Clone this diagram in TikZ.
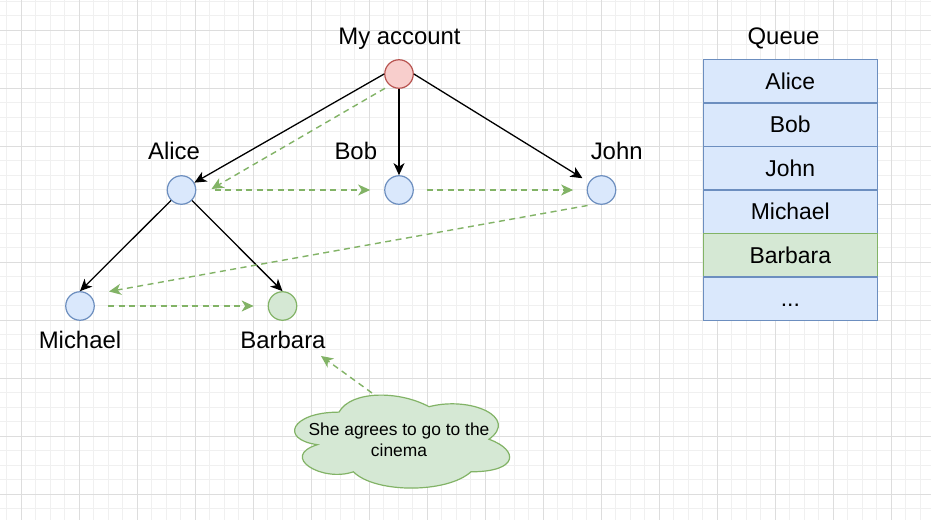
\documentclass[tikz,border=0pt]{standalone}
\usepackage{fontspec}
\setmainfont{Liberation Sans}
\usetikzlibrary{arrows.meta,calc}
\definecolor{bfill}{HTML}{DAE8FC}
\definecolor{bline}{HTML}{6C8EBF}
\definecolor{rfill}{HTML}{F8CECC}
\definecolor{rline}{HTML}{B85450}
\definecolor{gfill}{HTML}{D5E8D4}
\definecolor{gline}{HTML}{82B366}
\definecolor{gridminor}{HTML}{F0F0F0}
\definecolor{gridmajor}{HTML}{DDDDDD}
\begin{document}
\begin{tikzpicture}[x=1bp,y=-1bp,
  vertex/.style={circle, draw, line width=1.2bp, minimum size=28.5bp, inner sep=0pt},
  bluev/.style={vertex, draw=bline, fill=bfill},
  lbl/.style={font=\fontsize{24}{28}\selectfont, inner sep=0pt, anchor=base},
  qrow/.style={rectangle, draw=bline, fill=bfill, line width=1.2bp, minimum width=174bp, minimum height=43.5bp, inner sep=0pt, text height=16.4bp, text depth=0bp, font=\fontsize{23}{28}\selectfont},
  tree/.style={line width=1.3bp, -{Stealth[length=12bp,width=11bp,inset=3.5bp]}},
  visit/.style={draw=gline, line width=1.4bp, dash pattern=on 6bp off 4.5bp, -{Stealth[length=12bp,width=11bp,inset=3.5bp]}},
  minorline/.style={draw=gridminor, line width=1bp},
  majorline/.style={draw=gridmajor, line width=1bp}]
% background and grid
\fill[white] (0,0) rectangle (931,520);
\useasboundingbox (0,0) rectangle (931,520);
\foreach \i in {0,...,64} { \draw[minorline] ({6.8+14.5*\i},0) -- ({6.8+14.5*\i},520); }
\foreach \i in {0,...,35} { \draw[minorline] (0,{1.3+14.5*\i}) -- (931,{1.3+14.5*\i}); }
\foreach \i in {0,...,15} { \draw[majorline] ({21.3+58*\i},0) -- ({21.3+58*\i},520); }
\foreach \i in {0,...,8} { \draw[majorline] (0,{30.3+58*\i}) -- (931,{30.3+58*\i}); }

% vertices
\node[vertex, draw=rline, fill=rfill] (MA) at (399,74) {};
\node[bluev] (Alice) at (181.5,190) {};
\node[bluev] (Bob) at (399,190) {};
\node[bluev] (John) at (601.5,190) {};
\node[bluev] (Michael) at (80,306) {};
\node[vertex, draw=gline, fill=gfill] (Barbara) at (282.5,306) {};

% labels
\node[lbl] (tMA) at (399.5,44.3) {My account};
\node[lbl] (tAlice) at (174,160) {Alice};
\node[lbl] (tBob) at (355.8,160) {Bob};
\node[lbl] (tJohn) at (616.7,160) {John};
\node[lbl] (tMichael) at (80,348.3) {Michael};
\node[lbl] (tBarbara) at (283,348.3) {Barbara};

% tree edges
\draw[tree] (MA.west) -- (Alice);
\draw[tree] (MA) -- (Bob);
\draw[tree, shorten >=7.5bp] (MA.east) -- (John);
\draw[tree] (Alice) -- (Michael.north);
\draw[tree] (Alice) -- (Barbara.north);

% BFS visiting order
\draw[visit] ($(MA)+(-14,14.3)$) -- ($(Alice)+(30,-1)$);
\draw[visit, shorten <=18.5bp, shorten >=14bp] (Alice) -- (Bob);
\draw[visit, shorten <=13bp, shorten >=13.5bp] (Bob) -- (John);
\draw[visit] ($(John)+(-14,15.5)$) -- ($(Michael)+(29,-14.5)$);
\draw[visit, shorten <=13.2bp, shorten >=14bp] (Michael) -- (Barbara);

% cloud
\begin{scope}[shift={(279,385)}, x=240bp, y=-108.5bp]
\draw[draw=gline, fill=gfill, line width=1.2bp]
  (0.25,0.25) .. controls (0.05,0.25) and (0,0.5) .. (0.16,0.55)
  .. controls (0,0.66) and (0.18,0.9) .. (0.31,0.8)
  .. controls (0.4,1) and (0.7,1) .. (0.8,0.8)
  .. controls (1,0.8) and (1,0.6) .. (0.875,0.5)
  .. controls (1,0.3) and (0.8,0.1) .. (0.625,0.2)
  .. controls (0.5,0.05) and (0.3,0.05) .. (0.25,0.25) -- cycle;
\end{scope}
\node[align=center, inner sep=0pt, font=\fontsize{17.45}{21}\selectfont] (cloud) at (399,439.5) {She agrees to go to the\\cinema};
\coordinate (cloudtop) at (372,393);
\draw[visit] (cloudtop) -- ($(tBarbara)+(38,16.2)$);

% queue
\node[lbl] (tQueue) at (783.5,44.3) {Queue};
\node[qrow] (q1) at (790.3,81.25) {Alice};
\node[qrow] (q2) at (790.3,124.75) {Bob};
\node[qrow] (q3) at (790.3,168.25) {John};
\node[qrow] (q4) at (790.3,211.75) {Michael};
\node[qrow, draw=gline, fill=gfill] (q5) at (790.3,255.25) {Barbara};
\node[qrow] (q6) at (790.3,298.75) {...};
\end{tikzpicture}
\end{document}
